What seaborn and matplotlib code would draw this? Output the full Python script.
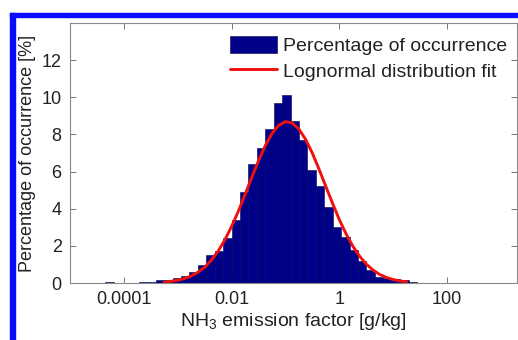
import numpy as np
import pandas as pd
import matplotlib
matplotlib.use("Agg")
import matplotlib.pyplot as plt
from matplotlib.patches import Rectangle
import seaborn as sns

# ---- data ----
# histogram: log10 of the lowest bin edge, bin width (in decades), bar heights [%]
bin_start_log10 = -4.347
bin_width_log10 = 0.1565
pct_occurrence = [0.03, 0.02, 0.02, 0.02, 0.04, 0.07, 0.15, 0.15, 0.25, 0.40,
                  0.60, 0.97, 1.5, 1.7, 2.4, 3.4, 4.9, 6.4, 7.25, 8.3,
                  9.7, 10.1, 8.7, 7.7, 6.1, 5.2, 4.1, 3.0, 2.5, 1.8,
                  1.2, 0.7, 0.35, 0.25, 0.2, 0.15, 0.08]

# lognormal fit curve (x as log10 of g/kg, y in %)
fit_log10_x = [-3.25, -3.125, -3.0, -2.875, -2.75, -2.625, -2.5, -2.375, -2.25,
               -2.125, -2.0, -1.875, -1.75, -1.625, -1.5, -1.375, -1.25, -1.125,
               -1.0, -0.875, -0.75, -0.625, -0.5, -0.375, -0.25, -0.125, 0.0,
               0.125, 0.25, 0.375, 0.5, 0.625, 0.75, 0.875, 1.0, 1.125, 1.25]
fit_pct = [0.05, 0.09, 0.15, 0.24, 0.38, 0.58, 0.85, 1.23, 1.71,
           2.32, 3.04, 3.86, 4.76, 5.69, 6.58, 7.39, 8.05, 8.49,
           8.69, 8.62, 8.29, 7.73, 6.99, 6.12, 5.20, 4.29, 3.42,
           2.65, 1.99, 1.45, 1.02, 0.70, 0.46, 0.30, 0.185, 0.11, 0.066]

xtick_values = [1e-4, 1e-2, 1, 100]
xtick_labels = ["0.0001", "0.01", "1", "100"]
ytick_values = [0, 2, 4, 6, 8, 10, 12]

x_label = "NH$_3$ emission factor [g/kg]"
y_label = "Percentage of occurrence [%]"
legend_labels = ["Percentage of occurrence", "Lognormal distribution fit"]

# ---- build tables ----
n_bins = len(pct_occurrence)
bin_centers_log10 = [bin_start_log10 + (i + 0.5) * bin_width_log10 for i in range(n_bins)]
hist_df = pd.DataFrame({"ef": [10 ** c for c in bin_centers_log10], "pct": pct_occurrence})
fit_df = pd.DataFrame({"ef": [10 ** v for v in fit_log10_x], "pct": fit_pct})

sns.set_theme(style="ticks")
plt.rcParams["font.family"] = ["Liberation Sans", "DejaVu Sans"]
plt.rcParams["mathtext.fontset"] = "custom"
plt.rcParams["mathtext.rm"] = "Liberation Sans"
plt.rcParams["mathtext.it"] = "Liberation Sans:italic"

fig = plt.figure(figsize=(5.18, 3.40), dpi=100)
ax = fig.add_axes([70 / 518, 1 - 283 / 340, (517 - 70) / 518, (283 - 23) / 340])

sns.histplot(data=hist_df, x="ef", weights="pct", log_scale=True,
             bins=n_bins,
             binrange=(bin_start_log10, bin_start_log10 + n_bins * bin_width_log10),
             stat="count", color="#000088", edgecolor="#000050", linewidth=0.4,
             alpha=1.0, ax=ax, label=legend_labels[0])
sns.lineplot(data=fit_df, x="ef", y="pct", color="#f01010", linewidth=2.1,
             ax=ax, label=legend_labels[1])

ax.set_xscale("log")
ax.set_xlim(10 ** -5, 10 ** 3.3)
ax.set_ylim(0, 14)
ax.set_xticks(xtick_values)
ax.set_xticklabels(xtick_labels)
ax.xaxis.set_minor_locator(matplotlib.ticker.NullLocator())
ax.set_yticks(ytick_values)
ax.set_yticklabels([str(v) for v in ytick_values])

ax.tick_params(axis="both", which="major", direction="in", length=4, width=0.7,
               color="#777777", labelsize=13, labelcolor="#222222", pad=6,
               top=True, right=True)
for s in ax.spines.values():
    s.set_color("#888888")
    s.set_linewidth(0.8)
    s.set_visible(True)

ax.set_xlabel(x_label, fontsize=14, color="#222222", labelpad=2)
ax.set_ylabel(y_label, fontsize=13, color="#222222", labelpad=4)

handles, labels = ax.get_legend_handles_labels()
order = [labels.index(legend_labels[0]), labels.index(legend_labels[1])]
leg = ax.legend([handles[i] for i in order], [labels[i] for i in order],
                loc="upper left", bbox_to_anchor=((230 - 70) / 447, (283 - 36) / 260),
                frameon=False, fontsize=14, handlelength=2.4, handleheight=1.0,
                handletextpad=0.35, borderpad=0.0, borderaxespad=0.0, labelspacing=0.3)
for t in leg.get_texts():
    t.set_color("#222222")

# blue frame of the reference image
fig.add_artist(Rectangle((10 / 518, 0), 5 / 518, (340 - 13) / 340,
                         transform=fig.transFigure, color="#0a0aff", zorder=10))
fig.add_artist(Rectangle((10 / 518, 1 - 17 / 340), 1 - 10 / 518, 4 / 340,
                         transform=fig.transFigure, color="#0a0aff", zorder=10))

fig.savefig("out.png", dpi=100)
